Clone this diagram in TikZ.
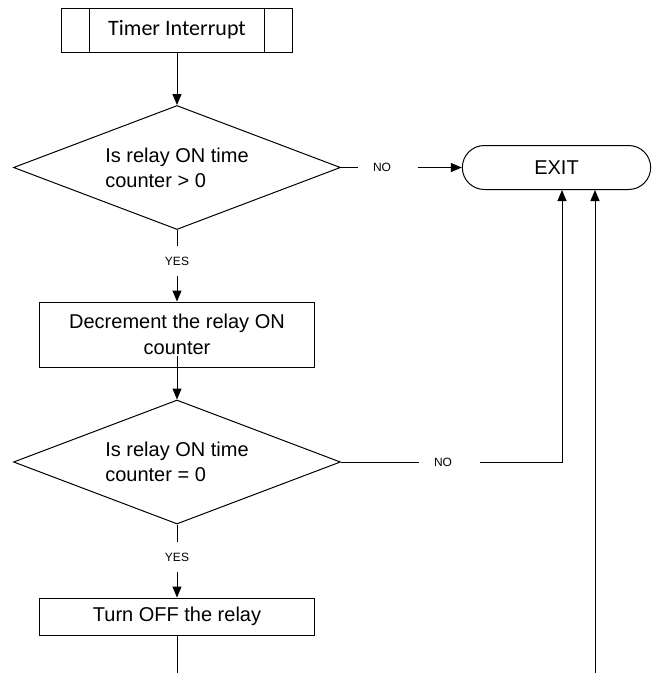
\documentclass[tikz,border=0pt]{standalone}
\usepackage{fontspec}
\setmainfont{Liberation Sans}
\newfontfamily\calibrifont{Carlito}
\usetikzlibrary{shapes.geometric,shapes.misc,arrows.meta}
\begin{document}
\begin{tikzpicture}[x=1pt,y=-1pt]

    \tikzset{
      box/.style={
        draw,
        line width=1pt,
        inner sep=0pt,
        minimum width=275pt,
        align=center,
        font=\fontsize{20}{26}\selectfont,
      },
      test/.style={
        draw,
        diamond,
        aspect=2.6,
        line width=1pt,
        inner sep=0pt,
        minimum width=327pt,
        minimum height=124pt,
        align=left,
        font=\fontsize{20}{25}\selectfont,
      },
      tag/.style={inner sep=0pt, minimum height=30pt, font=\fontsize{12}{14}\selectfont},
      notag/.style={inner ysep=0pt, inner xsep=14.5pt, font=\fontsize{12}{14}\selectfont},
      flow/.style={line width=1pt},
      arr/.style={line width=1pt, -{Triangle[length=11pt,width=9pt]}},
    }
    \useasboundingbox (0,0) rectangle (654,673);
	\node[box, minimum width=231pt, minimum height=44pt, font=\calibrifont\fontsize{22}{26}\selectfont] (tmr) at (177,30) {Timer Interrupt};
	\draw[flow] ([xshift=28pt]tmr.north west) -- ([xshift=28pt]tmr.south west);
	\draw[flow] ([xshift=-29pt]tmr.north east) -- ([xshift=-29pt]tmr.south east);
	\node[test] (d1) at (177,167.5) {Is relay ON time\\counter > 0};
	\node[tag] (yes1) at (177,261) {YES};
	\node[box, minimum height=65pt] (dec) at (177,334.5) {Decrement the relay ON\\counter};
	\node[test] (d2) at (177,462) {Is relay ON time\\counter = 0};
	\node[tag] (yes2) at (177,557) {YES};
	\node[box, minimum height=37pt] (off) at (177,616.5) {Turn OFF the relay};
	\node[draw, rounded rectangle, line width=1pt, minimum width=195pt, minimum height=44pt, font=\fontsize{20}{24}\selectfont] (exit) at (556.5,167.5) {EXIT};
	\node[notag] (no1) at (382,167.5) {NO};
	\node[notag] (no2) at (443,462) {NO};
	\coordinate (in1) at ([xshift=5.5pt]exit.south);
	\coordinate (in2) at ([xshift=38.5pt]exit.south);
	\coordinate (back) at (595,673);
	\coordinate (tail) at (177,673);

	\draw[arr] (tmr.south) -- (d1.north);
	\draw[flow] (d1.south) -- (yes1.north);
	\draw[arr] (yes1.south) -- (dec.north);
	\draw[arr] ([yshift=12pt]dec.south) -- (d2.north);
	\draw[flow] (d2.south) -- (yes2.north);
	\draw[arr] (yes2.south) -- (off.north);
	\draw[flow] (off.south) -- (tail);
	\draw[flow] (d1.east) -- (no1.west);
	\draw[arr, shorten <=12pt] (no1.east) -- (exit.west);
	\draw[flow] (d2.east) -- (no2.west);
	\draw[arr, shorten <=13pt] (no2.east) -| (in1);
	\draw[arr] (back) -- (in2);

\end{tikzpicture}
\end{document}
